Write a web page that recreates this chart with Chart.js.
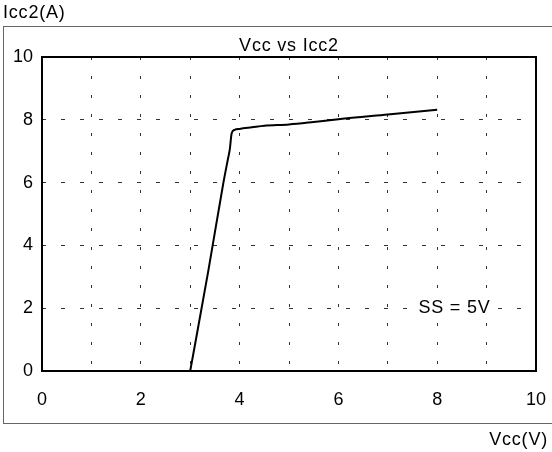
<!DOCTYPE html>
<html>
<head>
<meta charset="utf-8">
<script src="https://cdn.jsdelivr.net/npm/chart.js@4/dist/chart.umd.min.js"></script>
<style>
  body { margin: 0; background: #fff; }
  #wrap { width: 552px; height: 452px; }
</style>
</head>
<body>
<div id="wrap"><canvas id="chart" width="552" height="452"></canvas></div>
<script>
// Vcc (V) and Icc2 (A)
const vcc  = [3.0, 3.37, 3.67, 3.76, 3.80, 3.84, 3.90, 4.0, 4.25, 4.5, 5.0, 5.5, 6.0, 7.0, 8.0];
const icc2 = [0.0, 3.22, 5.98, 6.72, 7.04, 7.57, 7.68, 7.71, 7.76, 7.81, 7.85, 7.93, 8.02, 8.17, 8.32];
const xTicks = [0, 2, 4, 6, 8, 10];
const yTicks = [0, 2, 4, 6, 8, 10];

const chartTitle = 'Vcc vs Icc2';
const xLabel = 'Vcc(V)';
const yLabel = 'Icc2(A)';
const note = 'SS = 5V';

const FONT = "'Liberation Sans', Arial, sans-serif";

// frame, plot border and free texts
const decor = {
  id: 'decor',
  beforeDraw(chart) {
    const ctx = chart.ctx;
    ctx.save();
    ctx.strokeStyle = '#666';
    ctx.lineWidth = 1;
    ctx.strokeRect(3.5, 26.5, 560, 397);
    ctx.restore();
  },
  afterDraw(chart) {
    const ctx = chart.ctx;
    const a = chart.chartArea;
    const xs = chart.scales.x, ys = chart.scales.y;
    ctx.save();
    ctx.strokeStyle = '#000';
    ctx.lineWidth = 2;
    ctx.strokeRect(a.left, a.top, a.right - a.left, a.bottom - a.top);
    ctx.fillStyle = '#000';
    ctx.font = '18px ' + FONT;
    ctx.letterSpacing = '0.8px';
    ctx.textBaseline = 'middle';
    ctx.textAlign = 'center';
    ctx.fillText(chartTitle, (a.left + a.right) / 2, 46);
    ctx.textAlign = 'left';
    ctx.fillText(yLabel, 3, 13);
    // note sits on a white box over the grid
    const nx = xs.getPixelForValue(7.62), ny = ys.getPixelForValue(2);
    const w = ctx.measureText(note).width;
    ctx.fillStyle = '#fff';
    ctx.fillRect(nx - 4, ny - 11, w + 8, 22);
    ctx.fillStyle = '#000';
    ctx.fillText(note, nx, ny);
    ctx.textAlign = 'right';
    ctx.fillText(xLabel, 548, 440);
    ctx.restore();
  }
};

new Chart(document.getElementById('chart'), {
  type: 'scatter',
  data: {
    datasets: [{
      data: vcc.map((v, i) => ({ x: v, y: icc2[i] })),
      showLine: true,
      borderColor: '#000',
      borderWidth: 2,
      pointRadius: 0,
      cubicInterpolationMode: 'monotone'
    }]
  },
  options: {
    responsive: false,
    animation: false,
    layout: { padding: { top: 57, right: 16, bottom: 0, left: 0 } },
    plugins: { legend: { display: false }, tooltip: { enabled: false } },
    scales: {
      x: {
        type: 'linear', min: 0, max: 10,
        afterFit(s) { s.height = 81; s.paddingLeft = 0; s.paddingRight = 0; },
        border: { display: false, dash: [3, 16], dashOffset: 0 },
        grid: { color: '#333', lineWidth: 1, drawTicks: false },
        ticks: {
          stepSize: 1, padding: 18, color: '#000', maxRotation: 0, autoSkip: false,
          font: { family: FONT, size: 18 },
          callback: v => xTicks.includes(v) ? String(v) : ''
        }
      },
      y: {
        min: 0, max: 10,
        afterFit(s) { s.width = 42; s.paddingTop = 0; s.paddingBottom = 0; },
        border: { display: false, dash: [4, 15] },
        grid: { color: '#333', lineWidth: 1, drawTicks: false },
        ticks: {
          stepSize: 2, padding: 9, color: '#000',
          font: { family: FONT, size: 18 },
          callback: v => yTicks.includes(v) ? String(v) : ''
        }
      }
    }
  },
  plugins: [decor]
});
</script>
</body>
</html>
